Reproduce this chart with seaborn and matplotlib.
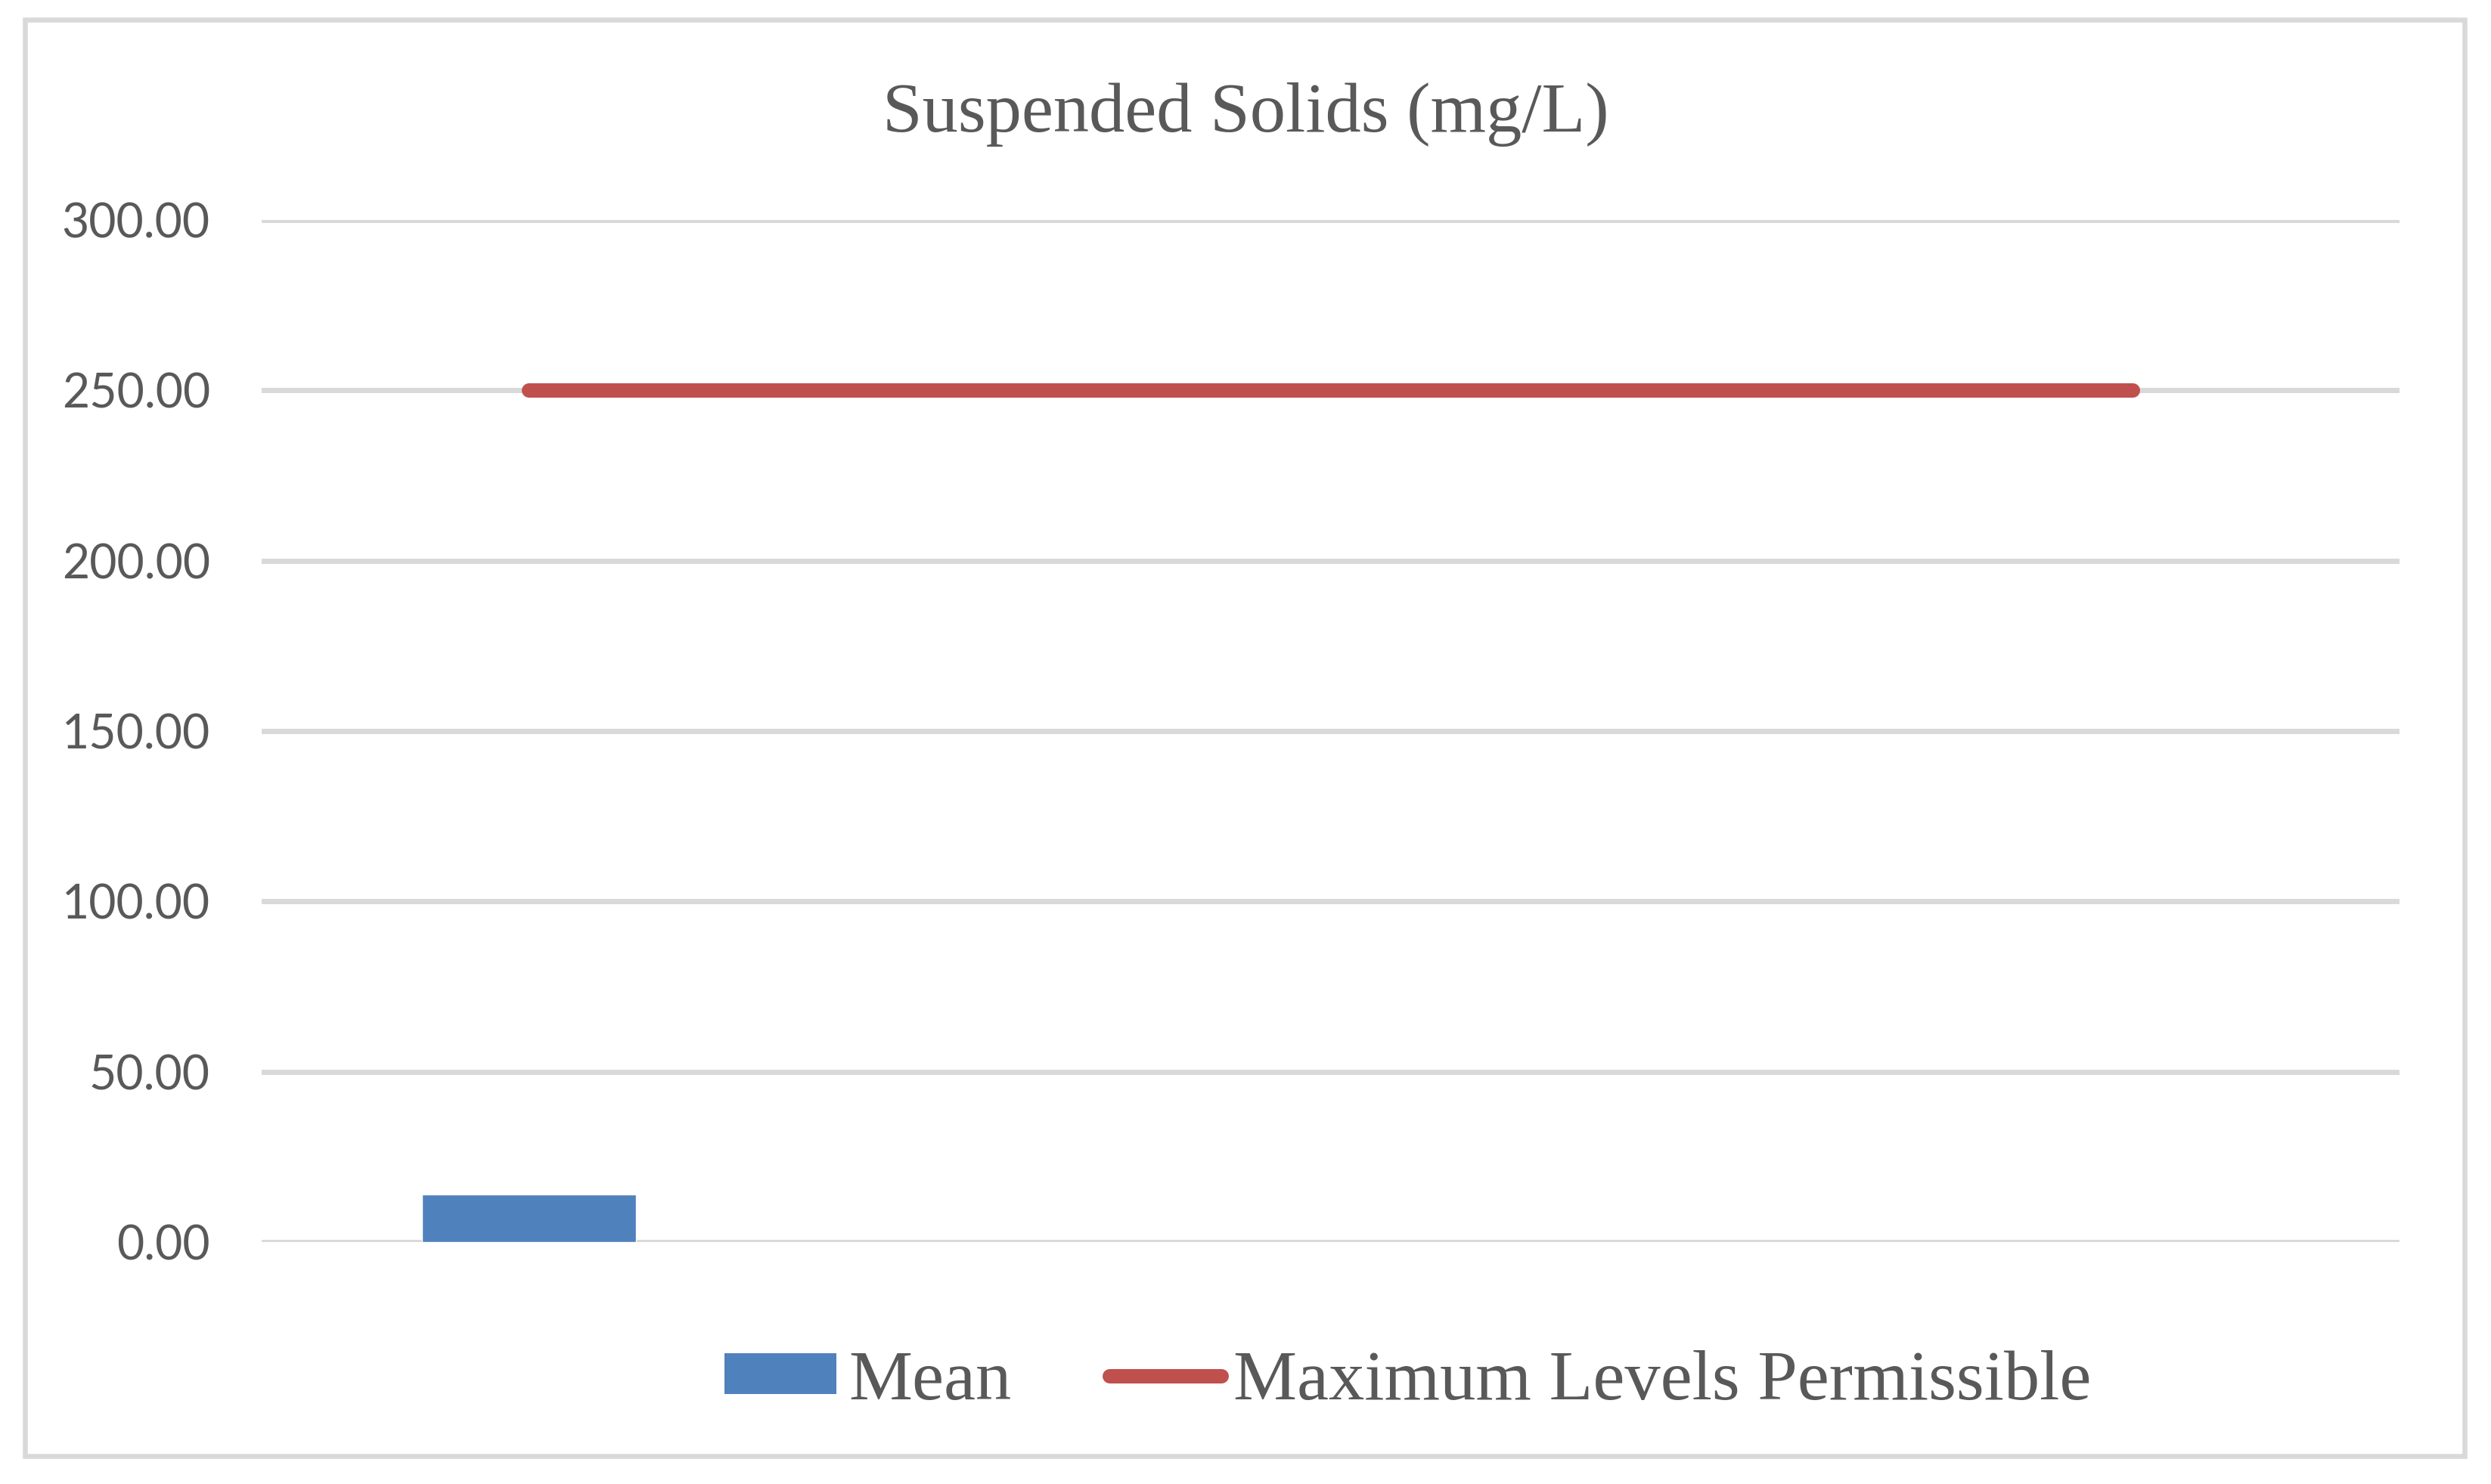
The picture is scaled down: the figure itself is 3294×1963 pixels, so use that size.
import matplotlib
matplotlib.use("Agg")
import matplotlib.pyplot as plt
import seaborn as sns
import numpy as np
import pandas as pd
from matplotlib.patches import Rectangle, Patch
from matplotlib.lines import Line2D

# ---- data ----
categories = ["1", "2", "3", "4"]
mean_values = [14.0, np.nan, np.nan, np.nan]
max_permissible = [250.0, 250.0, 250.0, 250.0]
y_ticks = [0, 50, 100, 150, 200, 250, 300]
title = "Suspended Solids (mg/L)"
series_names = ["Mean", "Maximum Levels Permissible"]

BAR_COLOR = "#4f81bd"
LINE_COLOR = "#c0504d"
TEXT_COLOR = "#595959"
GRID_COLOR = "#d9d9d9"

sns.set_style("white")
plt.rcParams["font.family"] = ["Lato", "DejaVu Sans"]

W, H = 3294, 1963
fig = plt.figure(figsize=(W / 100, H / 100), dpi=100)
ax = fig.add_axes([346 / W, 1 - 1643 / H, 2827 / W, (1643 - 291) / H])

df = pd.DataFrame({"category": categories, "mean": mean_values,
                   "limit": max_permissible, "pos": np.arange(len(categories))})

sns.barplot(data=df.dropna(subset=["mean"]), x="category", y="mean", order=categories,
            color=BAR_COLOR, saturation=1, width=0.4, errorbar=None, ax=ax, zorder=3)
sns.lineplot(data=df, x="pos", y="limit", color=LINE_COLOR, linewidth=13.7,
             solid_capstyle="round", ax=ax, zorder=4)

ax.set_xlim(-0.5, len(categories) - 0.5)
ax.set_ylim(y_ticks[0], y_ticks[-1])
ax.set_yticks(y_ticks)
ax.set_yticklabels([f"{v:.2f}" for v in y_ticks])
ax.set_xticks([])
ax.set_xlabel("")
ax.set_ylabel("")
for s in ax.spines.values():
    s.set_visible(False)
ax.yaxis.grid(True, color=GRID_COLOR, linewidth=5.0, zorder=0)
ax.set_axisbelow(True)
ax.tick_params(axis="y", length=0, pad=49, labelsize=45, labelcolor=TEXT_COLOR)

fig.text(0.5, 1 - 152 / H, title, ha="center", va="center",
         family=["Liberation Serif", "DejaVu Serif"], fontsize=68, color=TEXT_COLOR)

handles = [Patch(facecolor=BAR_COLOR, edgecolor="none", label=series_names[0]),
           Line2D([], [], color=LINE_COLOR, linewidth=13.7, solid_capstyle="round",
                  label=series_names[1])]
fig.legend(handles=handles, loc="center left", bbox_to_anchor=(958 / W, 1 - 1828 / H),
           bbox_transform=fig.transFigure, ncol=2, frameon=False, borderpad=0,
           borderaxespad=0, handlelength=1.57, handleheight=0.49, handletextpad=0.17,
           columnspacing=1.37,
           prop={"family": ["Liberation Serif", "DejaVu Serif"], "size": 68},
           labelcolor=TEXT_COLOR)

fig.patches.append(Rectangle((33 / W, 1 - 1926 / H), (3259 - 33) / W, (1926 - 26) / H,
                             transform=fig.transFigure, fill=False,
                             edgecolor=GRID_COLOR, linewidth=4.7))

fig.savefig("out.png", dpi=100, facecolor="white")
